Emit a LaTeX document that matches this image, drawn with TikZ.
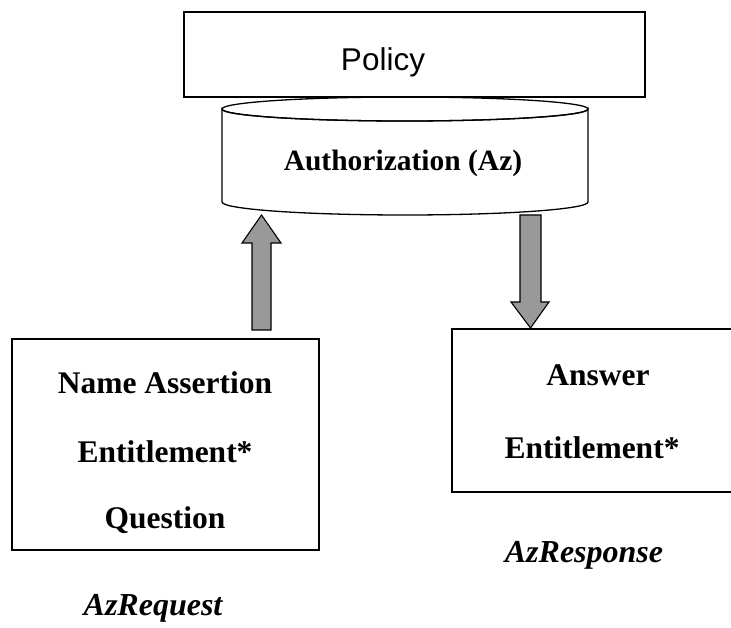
\documentclass[tikz,border=0pt]{standalone}
\usepackage{fontspec}
\setmainfont{Liberation Serif}
\newfontfamily\arialfont{Liberation Sans}
\begin{document}
\begin{tikzpicture}[x=1pt,y=-1pt,
  outline/.style={draw=black,line width=1.3pt},
  boxstyle/.style={outline,fill=white,rectangle,inner sep=0pt},
  label/.style={font=\fontsize{31.5}{31.5}\selectfont\bfseries,inner sep=0pt,anchor=center},
  caption/.style={font=\fontsize{32}{32}\selectfont\bfseries\itshape,inner sep=0pt},
  fatarrow/.style={outline,line width=1.1pt,fill=arrowgray,line join=miter}]
\definecolor{arrowgray}{RGB}{153,153,153}
\clip (0,0) rectangle (731,628);

% Policy box
\node[boxstyle,minimum width=461pt,minimum height=85pt] (policy) at (414.5,54.5) {};
\node[font=\arialfont\fontsize{31.5}{31.5}\selectfont,inner sep=0pt] (policytext) at (383,62) {Policy};

% Authorization store drawn as a cylinder
\coordinate (cyltop) at (405,109);
\coordinate (cylbot) at (405,202);
\draw[outline,fill=white] (222,109) -- (222,202)
  arc[start angle=180,end angle=0,x radius=183,y radius=13] -- (588,109)
  arc[start angle=0,end angle=180,x radius=183,y radius=12] -- cycle;
\draw[outline] (cyltop) ellipse[x radius=183,y radius=12];
\node[label,font=\fontsize{29.5}{29.5}\selectfont\bfseries] (az) at (403,163) {Authorization (Az)};

% Request and response boxes
\node[boxstyle,minimum width=307pt,minimum height=211pt] (req) at (165.5,444.5) {};
\node[label] (req1) at (165,383) {Name Assertion};
\node[label] (req2) at (165,452) {Entitlement*};
\node[label] (req3) at (165,520) {Question};

\node[boxstyle,minimum width=300pt,minimum height=163pt] (resp) at (602,410.5) {};
\node[label] (resp1) at (598,375) {Answer};
\node[label] (resp2) at (592,448) {Entitlement*};

\node[caption] (reqcap) at (153,608) {AzRequest};
\node[caption] (respcap) at (584,555) {AzResponse};

% Block arrows between the boxes and the store
\coordinate (upbase) at (261.5,330);
\coordinate (uptip) at (261.5,215);
\draw[fatarrow] (upbase) ++(-9.5,0) -- ++(0,-87) -- ++(-10,0) -- (uptip)
  -- ++(19.5,28) -- ++(-10,0) -- ++(0,87) -- cycle;

\coordinate (downbase) at (530.5,215);
\coordinate (downtip) at (530.5,328);
\draw[fatarrow] (downbase) ++(-10.5,0) -- ++(0,87) -- ++(-9,0) -- (downtip)
  -- ++(18.5,-26) -- ++(-8,0) -- ++(0,-87) -- cycle;
\end{tikzpicture}
\end{document}
